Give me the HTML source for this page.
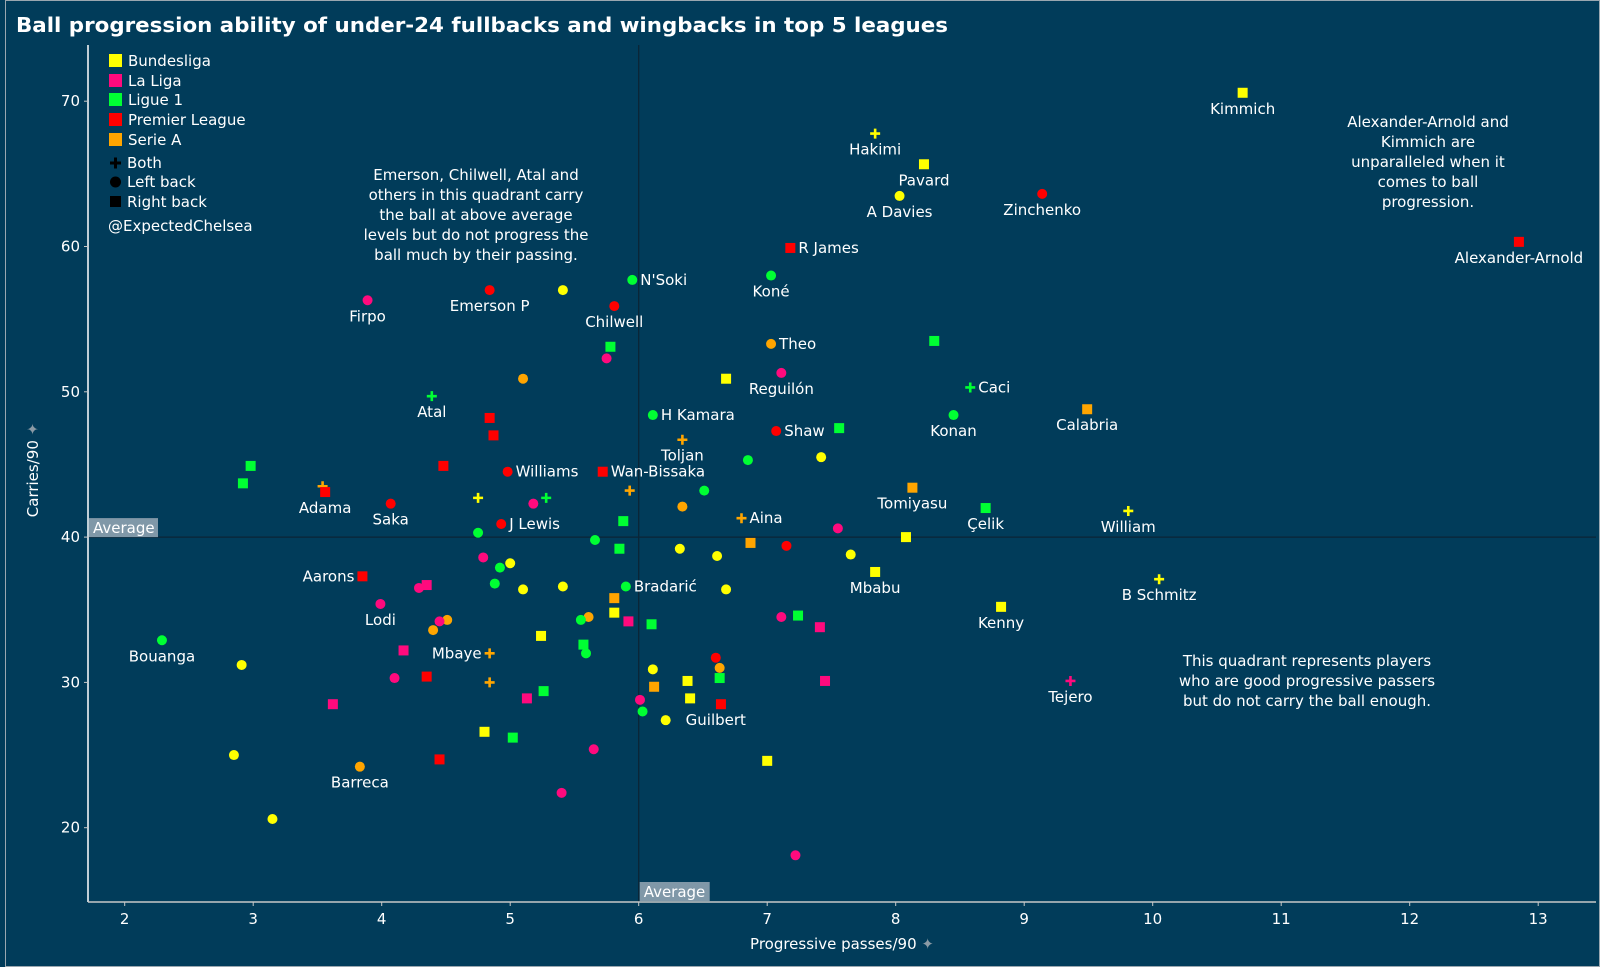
<!DOCTYPE html>
<html><head><meta charset="utf-8"><style>
html,body{margin:0;padding:0;background:#013c5a;}
svg{display:block;font-family:"DejaVu Sans","Liberation Sans",sans-serif;}
</style></head><body>
<svg id="chart" width="1600" height="967" viewBox="0 0 1600 967" xmlns="http://www.w3.org/2000/svg">
<rect x="0" y="0" width="1600" height="967" fill="#013c5a"/>
<rect x="5.5" y="0.5" width="1594" height="966" fill="none" stroke="#9aa7b0" stroke-width="1"/>
<text x="16" y="32" font-size="20" font-weight="bold" fill="#ffffff" textLength="932" lengthAdjust="spacingAndGlyphs">Ball progression ability of under-24 fullbacks and wingbacks in top 5 leagues</text>
<g id="grid"></g>
<g id="marks"></g>
<g id="labels"></g>
<g font-size="15" fill="#ffffff">
 <rect x="109" y="54" width="13" height="13" fill="#ffff00"/><text x="128" y="66">Bundesliga</text>
 <rect x="109" y="74" width="13" height="13" fill="#ff0a7d"/><text x="128" y="86">La Liga</text>
 <rect x="109" y="93" width="13" height="13" fill="#00ff33"/><text x="128" y="105">Ligue 1</text>
 <rect x="109" y="113" width="13" height="13" fill="#ff0000"/><text x="128" y="125">Premier League</text>
 <rect x="109" y="133" width="13" height="13" fill="#ffa500"/><text x="128" y="145">Serie A</text>
 <path d="M110 163h11M115.5 157.5v11" stroke="#000" stroke-width="3"/><text x="127" y="168">Both</text>
 <circle cx="115.5" cy="182" r="5.5" fill="#000"/><text x="127" y="187">Left back</text>
 <rect x="110" y="196" width="11" height="11" fill="#000"/><text x="127" y="207">Right back</text>
 <text x="108" y="231">@ExpectedChelsea</text>
</g>
<g font-size="15" fill="#ffffff" text-anchor="middle">
 <text x="476" y="180"><tspan x="476">Emerson, Chilwell, Atal and</tspan><tspan x="476" dy="20">others in this quadrant carry</tspan><tspan x="476" dy="20">the ball at above average</tspan><tspan x="476" dy="20">levels but do not progress the</tspan><tspan x="476" dy="20">ball much by their passing.</tspan></text>
 <text x="1428" y="127"><tspan x="1428">Alexander-Arnold and</tspan><tspan x="1428" dy="20">Kimmich are</tspan><tspan x="1428" dy="20">unparalleled when it</tspan><tspan x="1428" dy="20">comes to ball</tspan><tspan x="1428" dy="20">progression.</tspan></text>
 <text x="1307" y="666"><tspan x="1307">This quadrant represents players</tspan><tspan x="1307" dy="20">who are good progressive passers</tspan><tspan x="1307" dy="20">but do not carry the ball enough.</tspan></text>
</g>
<text x="842" y="949" font-size="15" fill="#ffffff" text-anchor="middle">Progressive passes/90 <tspan fill="#8a9aa5">✦</tspan></text>
<text transform="translate(38,470) rotate(-90)" font-size="15" fill="#ffffff" text-anchor="middle">Carries/90 <tspan fill="#8a9aa5">✦</tspan></text>
</svg>
<script>
const xTicks=[2,3,4,5,6,7,8,9,10,11,12,13];
const yTicks=[20,30,40,50,60,70];
const avgX=6.0;
const avgY=40.0;
const px=[10.70,7.84,8.22,8.03,9.14,12.85,7.18,7.03,5.95,4.84,5.41,5.81,3.89,8.30,7.03,5.78,5.75,7.11,6.68,5.10,8.58,4.39,9.49,6.11,8.45,4.84,7.56,7.07,4.87,6.34,6.85,7.42,2.98,4.48,4.98,5.72,2.92,8.13,3.54,3.56,5.93,6.51,4.75,5.28,4.07,5.18,6.34,8.70,9.81,6.80,5.88,4.93,7.55,4.75,8.08,5.66,6.87,7.15,5.85,6.32,7.65,6.61,4.79,5.00,4.92,7.84,10.05,3.85,4.88,5.90,4.35,4.29,5.41,5.10,6.68,5.81,3.99,8.82,5.81,5.61,5.55,7.11,7.24,5.92,4.51,4.45,6.10,7.41,4.40,5.24,2.29,5.57,5.59,4.17,4.84,2.91,6.60,6.11,6.63,4.10,4.35,6.63,7.45,6.38,4.84,9.36,5.26,6.12,6.40,5.13,6.01,3.62,6.64,6.03,6.21,4.80,5.02,5.65,2.85,4.45,7.00,3.83,5.40,3.15,7.22];
const py=[70.58,67.77,65.66,63.48,63.62,60.32,59.9,58.0,57.7,57.0,57.0,55.9,56.3,53.5,53.3,53.1,52.3,51.3,50.9,50.9,50.3,49.7,48.8,48.4,48.4,48.2,47.5,47.3,47.0,46.7,45.3,45.5,44.9,44.9,44.5,44.5,43.7,43.4,43.5,43.1,43.2,43.2,42.7,42.7,42.3,42.3,42.1,42.0,41.8,41.3,41.1,40.9,40.6,40.3,40.0,39.8,39.6,39.4,39.2,39.2,38.8,38.7,38.6,38.2,37.9,37.6,37.1,37.3,36.8,36.6,36.7,36.5,36.6,36.4,36.4,35.8,35.4,35.2,34.8,34.5,34.3,34.5,34.6,34.2,34.3,34.2,34.0,33.8,33.6,33.2,32.9,32.6,32.0,32.2,32.0,31.2,31.7,30.9,31.0,30.3,30.4,30.3,30.1,30.1,30.0,30.1,29.4,29.7,28.9,28.9,28.8,28.5,28.5,28.0,27.4,26.6,26.2,25.4,25.0,24.7,24.6,24.2,22.4,20.6,18.1];
const league=["Y","Y","Y","Y","R","R","R","G","G","R","Y","R","P","G","O","G","P","P","Y","O","G","G","O","G","G","R","G","R","R","O","G","Y","G","R","R","R","G","O","O","R","O","G","Y","G","R","P","O","G","Y","O","G","R","P","G","Y","G","O","R","G","Y","Y","Y","P","Y","G","Y","Y","R","G","G","P","P","Y","Y","Y","O","P","Y","Y","O","G","P","G","P","O","P","G","P","O","Y","G","G","G","P","O","Y","R","Y","O","P","R","G","P","Y","O","P","G","O","Y","P","P","P","R","G","Y","Y","G","P","Y","R","Y","O","P","Y","P"];
const shape=["s","p","s","c","c","s","s","c","c","c","c","c","c","s","c","s","c","c","s","c","p","p","s","c","c","s","s","c","s","p","c","c","s","s","c","s","s","s","p","s","p","c","p","p","c","c","c","s","p","p","s","c","c","c","s","c","s","c","s","c","c","c","c","c","c","s","p","s","c","c","s","c","c","c","c","s","c","s","s","c","c","c","s","s","c","c","s","s","c","s","c","s","c","s","p","c","c","c","c","c","s","s","s","s","p","p","s","s","s","s","c","s","s","c","c","s","s","c","c","s","s","c","c","c","c"];
const names=["Kimmich","Hakimi","Pavard","A Davies","Zinchenko","Alexander-Arnold","R James","Koné","N'Soki","Emerson P","","Chilwell","Firpo","","Theo","","","Reguilón","","","Caci","Atal","Calabria","H Kamara","Konan","","","Shaw","","Toljan","","","","","Williams","Wan-Bissaka","","Tomiyasu","","Adama","","","","","Saka","","","Çelik","William","Aina","","J Lewis","","","","","","","","","","","","","","Mbabu","B Schmitz","Aarons","","Bradarić","","","","","","","Lodi","Kenny","","","","","","","","","","","","","Bouanga","","","","Mbaye","","","","","","","","","","","Tejero","","","","","","","","","Guilbert","","","","","","","Barreca","","",""];
const labelPos={"R James":"r","N'Soki":"r","Theo":"r","Caci":"r","H Kamara":"r","Shaw":"r","Williams":"r","Wan-Bissaka":"r","Aina":"r","J Lewis":"r","Bradarić":"r","Guilbert":"r2","Aarons":"l","Mbaye":"l"};
</script>
<script>
(function(){
const NS="http://www.w3.org/2000/svg";
const L=88,R=1596,T=45,B=902;
const sx=v=>124.7+(v-2)*128.5;
const sy=v=>827.7-(v-20)*14.53;
const colors={Y:"#ffff00",P:"#ff0a7d",G:"#00ff33",R:"#ff0000",O:"#ffa500"};
function mk(tag,attrs,parent){const e=document.createElementNS(NS,tag);for(const k in attrs)e.setAttribute(k,attrs[k]);parent.appendChild(e);return e;}
const grid=document.getElementById('grid');
let e;
e=mk('line',{x1:sx(avgX),x2:sx(avgX),y1:T,y2:B,stroke:"#0b2536","stroke-width":1.3},grid);


e=mk('line',{x1:L,x2:R,y1:sy(avgY),y2:sy(avgY),stroke:"#0b2536","stroke-width":1.3},grid);


e=mk('line',{x1:L,x2:L,y1:T,y2:B,stroke:"#ffffff","stroke-width":1.5},grid);


e=mk('line',{x1:L,x2:R,y1:B,y2:B,stroke:"#c8c8c8","stroke-width":1.5},grid);


xTicks.forEach(t=>{
  const x=sx(t);
  let tk=mk('line',{x1:x,x2:x,y1:B,y2:B+4,stroke:"#c8c8c8"},grid);
  
  
  let tx=mk('text',{x:x,y:B+22,"font-size":15,fill:"#fff","text-anchor":"middle"},grid);
  tx.textContent=t;
  
  
});
yTicks.forEach(t=>{
  const y=sy(t);
  let tk=mk('line',{x1:L-4,x2:L,y1:y,y2:y,stroke:"#c8c8c8"},grid);
  
  
  let tx=mk('text',{x:L-8,y:y+5,"font-size":15,fill:"#fff","text-anchor":"end"},grid);
  tx.textContent=t;
  
  
});
e=mk('rect',{x:L+1,y:sy(avgY)-19,width:69,height:19,fill:"#8098a8"},grid);


e=mk('text',{x:L+5,y:sy(avgY)-4,"font-size":15,fill:"#fff"},grid);e.textContent="Average";


e=mk('rect',{x:sx(avgX)+1,y:B-20,width:70,height:19,fill:"#8098a8"},grid);


e=mk('text',{x:sx(avgX)+5,y:B-5,"font-size":15,fill:"#fff"},grid);e.textContent="Average";



const marks=document.getElementById('marks');
const labels=document.getElementById('labels');
for(let i=0;i<px.length;i++){
  const x=sx(px[i]),y=sy(py[i]);
  const c=colors[league[i]]||"#ffff00";
  const s=shape[i]||"c";
  let m;
  if(s==="s") m=mk('rect',{x:x-5,y:y-5,width:10,height:10,fill:c},marks);
  else if(s==="p") m=mk('path',{d:`M${x-5} ${y}h10M${x} ${y-5}v10`,stroke:c,"stroke-width":2.6},marks);
  else m=mk('circle',{cx:x,cy:y,r:5,fill:c},marks);
  
  
  const n=names[i];
  if(n){
    const p=labelPos[n]||"b";
    let a;
    if(p==="r") a={x:x+8,y:y+5,"text-anchor":"start"};
    else if(p==="r2") a={x:x+20,y:y+5,"text-anchor":"start"};
    else if(p==="l") a={x:x-8,y:y+5,"text-anchor":"end"};
    else a={x:x,y:y+21,"text-anchor":"middle"};
    a["font-size"]=15;a.fill="#fff";
    const t=mk('text',a,labels);
    t.textContent=n;
    
    
  }
}
})();
</script>
</body></html>
